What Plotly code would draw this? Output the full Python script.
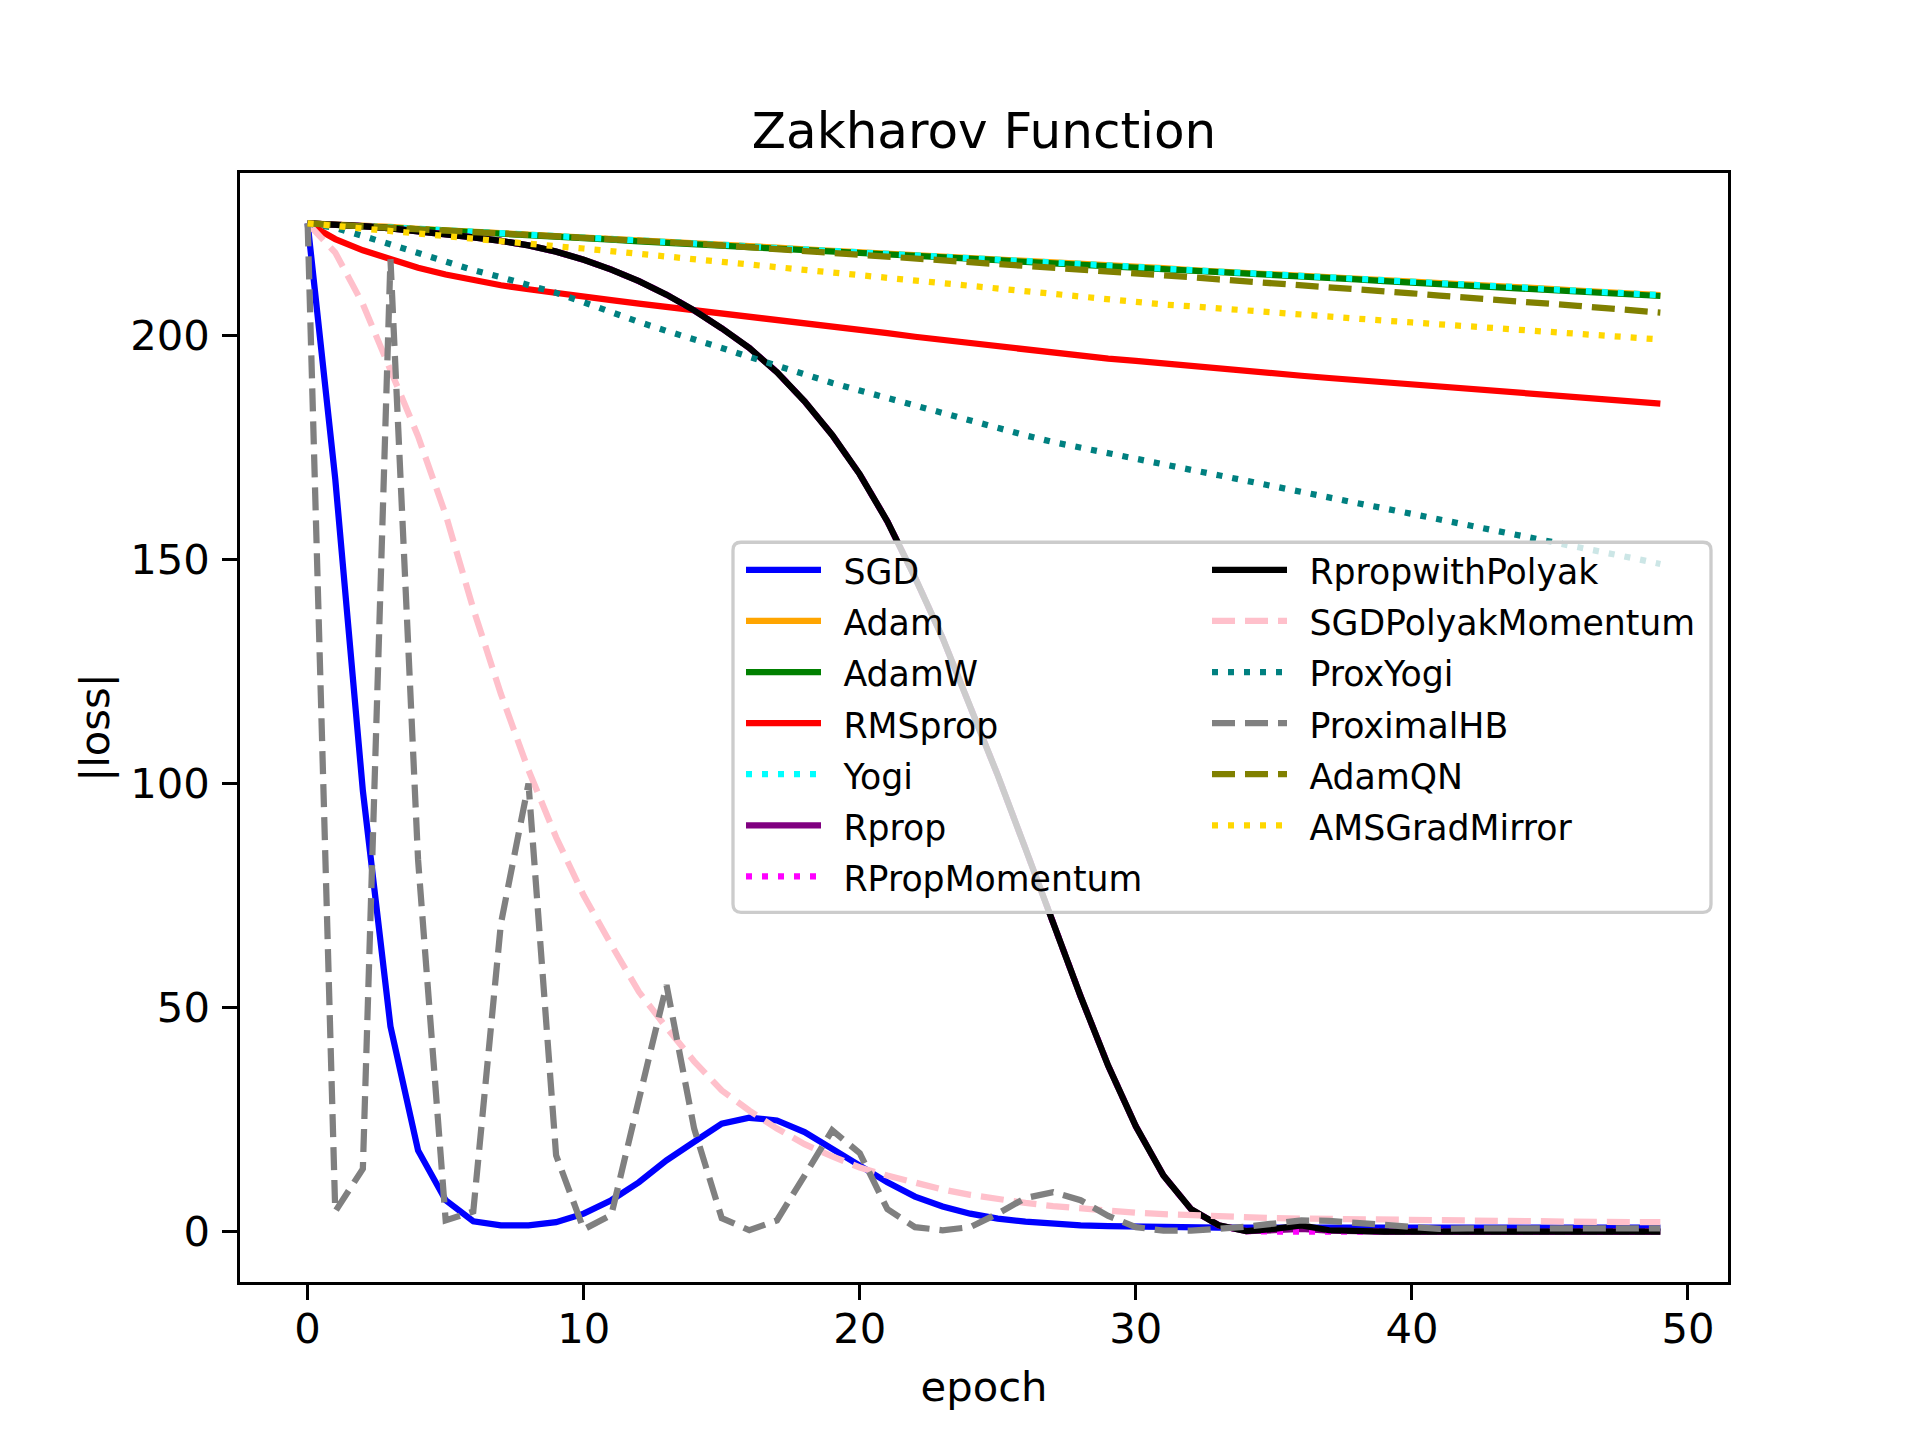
import plotly.graph_objects as go

# epochs 0..49
epochs = list(range(50))

sgd = [225.0, 168.0, 98.4, 45.8, 18.1, 7.0, 2.3, 1.4, 1.4, 2.1,
       4.0, 7.0, 11.0, 15.9, 20.0, 24.1, 25.4, 24.8, 22.2, 18.5,
       14.8, 11.0, 7.8, 5.6, 4.0, 2.9, 2.2, 1.7, 1.4, 1.2,
       1.05, 1.0, 0.95, 0.9, 0.9, 0.9, 0.9, 0.9, 0.9, 0.9,
       0.9, 0.9, 0.9, 0.9, 0.9, 0.9, 0.9, 0.9, 0.9, 0.9]

adam = [225.0, 224.8, 224.5, 224.2, 223.8, 223.5, 223.2, 222.9, 222.5, 222.2,
        221.9, 221.5, 221.2, 220.9, 220.6, 220.2, 219.9, 219.6, 219.2, 218.9,
        218.6, 218.3, 217.9, 217.6, 217.3, 216.9, 216.6, 216.3, 215.9, 215.6,
        215.3, 215.0, 214.6, 214.3, 214.0, 213.6, 213.3, 213.0, 212.7, 212.3,
        212.0, 211.7, 211.3, 211.0, 210.7, 210.4, 210.0, 209.7, 209.4, 209.0]

adamw = [225.0, 224.7, 224.3, 224.0, 223.7, 223.4, 223.0, 222.7, 222.4, 222.0,
         221.7, 221.4, 221.0, 220.7, 220.4, 220.1, 219.7, 219.4, 219.1, 218.7,
         218.4, 218.1, 217.7, 217.4, 217.1, 216.8, 216.4, 216.1, 215.8, 215.4,
         215.1, 214.8, 214.4, 214.1, 213.8, 213.5, 213.1, 212.8, 212.5, 212.1,
         211.8, 211.5, 211.1, 210.8, 210.5, 210.2, 209.8, 209.5, 209.2, 208.8]

rmsprop = [225.0, 221.5, 219.0, 216.9, 215.1, 213.6, 212.3, 211.2, 210.3, 209.4,
           208.6, 207.9, 207.1, 206.4, 205.6, 204.9, 204.1, 203.4, 202.7, 201.9,
           201.2, 200.5, 199.7, 199.0, 198.2, 197.5, 196.8, 196.0, 195.4, 194.8,
           194.3, 193.7, 193.1, 192.5, 192.0, 191.5, 191.0, 190.5, 190.0, 189.5,
           189.1, 188.6, 188.1, 187.6, 187.1, 186.7, 186.2, 185.7, 185.3, 184.8]

yogi = [225.0, 224.8, 224.5, 224.1, 223.8, 223.5, 223.1, 222.8, 222.5, 222.2,
        221.8, 221.5, 221.2, 220.8, 220.5, 220.2, 219.9, 219.5, 219.2, 218.9,
        218.5, 218.2, 217.9, 217.6, 217.2, 216.9, 216.6, 216.2, 215.9, 215.6,
        215.3, 214.9, 214.6, 214.3, 213.9, 213.6, 213.3, 213.0, 212.6, 212.3,
        212.0, 211.6, 211.3, 211.0, 210.7, 210.3, 210.0, 209.7, 209.3, 209.0]

rprop = [225.0, 224.8, 224.4, 223.9, 223.3, 222.6, 221.9, 221.1, 220.1, 218.7,
         216.9, 214.7, 212.1, 209.1, 205.6, 201.6, 197.2, 191.8, 185.3, 177.8,
         169.0, 158.5, 146.0, 132.5, 117.5, 101.8, 85.5, 69.0, 52.5, 37.0,
         23.5, 12.5, 5.0, 1.4, 0.1, 0.3, 0.6, 0.2, 0.0, 0.0,
         0.0, 0.0, 0.0, 0.0, 0.0, 0.0, 0.0, 0.0, 0.0, 0.0]

rprop_momentum = [225.0, 224.8, 224.4, 223.9, 223.3, 222.6, 221.9, 221.1, 220.1, 218.7,
                  216.9, 214.7, 212.1, 209.1, 205.6, 201.6, 197.2, 191.8, 185.3, 177.8,
                  169.0, 158.5, 146.0, 132.5, 117.5, 101.8, 85.5, 69.0, 52.5, 37.0,
                  23.5, 12.5, 5.0, 1.4, 0.1, 0.0, 0.0, 0.0, 0.0, 0.0,
                  0.0, 0.0, 0.0, 0.0, 0.0, 0.0, 0.0, 0.0, 0.0, 0.0]

rprop_polyak = [225.0, 224.8, 224.4, 223.9, 223.3, 222.6, 221.9, 221.1, 220.1, 218.7,
                216.9, 214.7, 212.1, 209.1, 205.6, 201.6, 197.2, 191.8, 185.3, 177.8,
                169.0, 158.5, 146.0, 132.5, 117.5, 101.8, 85.5, 69.0, 52.5, 37.0,
                23.5, 12.5, 5.0, 1.4, 0.1, 0.6, 1.4, 0.3, 0.05, 0.0,
                0.0, 0.0, 0.0, 0.0, 0.0, 0.0, 0.0, 0.0, 0.0, 0.0]

sgd_polyak = [225.0, 218.5, 207.0, 192.5, 177.5, 160.0, 139.0, 120.0, 103.0, 88.0,
              75.0, 64.0, 53.5, 45.5, 38.0, 31.5, 27.0, 23.0, 19.5, 16.8,
              14.3, 12.5, 10.8, 9.4, 8.2, 7.2, 6.4, 5.7, 5.1, 4.6,
              4.2, 3.9, 3.6, 3.4, 3.2, 3.0, 2.9, 2.8, 2.7, 2.6,
              2.5, 2.45, 2.4, 2.35, 2.3, 2.25, 2.2, 2.15, 2.1, 2.1]

prox_yogi = [225.0, 224.0, 222.2, 220.3, 218.3, 216.4, 214.6, 213.0, 211.4, 209.5,
             207.4, 205.1, 203.0, 201.0, 199.2, 197.2, 195.2, 193.2, 191.3, 189.4,
             187.7, 186.0, 184.3, 182.7, 181.0, 179.4, 177.7, 176.2, 174.9, 173.7,
             172.5, 171.2, 170.0, 168.8, 167.5, 166.3, 165.1, 163.8, 162.6, 161.4,
             160.2, 158.9, 157.7, 156.5, 155.2, 154.0, 152.8, 151.5, 150.3, 149.0]

proximal_hb = [225.0, 4.5, 14.0, 217.0, 83.0, 2.5, 4.5, 68.7, 100.0, 17.0,
               0.5, 3.7, 29.5, 55.0, 23.0, 3.0, 0.3, 2.5, 12.5, 22.6,
               17.5, 5.0, 1.0, 0.3, 1.0, 4.0, 7.5, 8.8, 7.0, 3.5,
               1.0, 0.2, 0.2, 0.5, 1.1, 1.8, 2.5, 2.4, 1.9, 1.3,
               0.9, 0.6, 0.7, 0.7, 0.7, 0.7, 0.7, 0.7, 0.7, 0.7]

adam_qn = [225.0, 224.7, 224.4, 224.0, 223.7, 223.4, 223.1, 222.7, 222.4, 222.1,
           221.8, 221.4, 221.1, 220.8, 220.5, 220.1, 219.7, 219.3, 218.9, 218.4,
           217.9, 217.5, 217.1, 216.7, 216.2, 215.8, 215.4, 215.0, 214.6, 214.2,
           213.8, 213.4, 213.0, 212.5, 212.1, 211.7, 211.2, 210.8, 210.3, 209.9,
           209.4, 208.9, 208.5, 208.0, 207.6, 207.1, 206.6, 206.1, 205.6, 205.1]

ams_grad_mirror = [225.0, 224.4, 223.8, 223.3, 222.7, 222.1, 221.6, 221.0, 220.5, 219.9,
                   219.4, 218.8, 218.2, 217.6, 217.0, 216.4, 215.8, 215.2, 214.6, 214.0,
                   213.4, 212.8, 212.1, 211.5, 210.8, 210.2, 209.6, 209.0, 208.5, 207.9,
                   207.4, 206.9, 206.5, 206.0, 205.6, 205.1, 204.7, 204.2, 203.8, 203.3,
                   202.9, 202.5, 202.1, 201.6, 201.2, 200.8, 200.4, 199.9, 199.5, 199.1]

names = ['SGD', 'Adam', 'AdamW', 'RMSprop', 'Yogi', 'Rprop', 'RPropMomentum',
         'RpropwithPolyak', 'SGDPolyakMomentum', 'ProxYogi', 'ProximalHB',
         'AdamQN', 'AMSGradMirror']
series = [sgd, adam, adamw, rmsprop, yogi, rprop, rprop_momentum,
          rprop_polyak, sgd_polyak, prox_yogi, proximal_hb, adam_qn, ams_grad_mirror]
colors = ['#0000ff', '#ffa500', '#008000', '#ff0000', '#00ffff', '#800080', '#ff00ff',
          '#000000', '#ffc0cb', '#008080', '#808080', '#808000', '#ffd700']

# matplotlib-like dash patterns at 300 dpi (lw 1.5pt)
SOLID = 'solid'
DASHED = '23px,10px'
DOTTED = '6px,10px'
dashes = [SOLID, SOLID, SOLID, SOLID, DOTTED, SOLID, DOTTED,
          SOLID, DASHED, DOTTED, DASHED, DASHED, DOTTED]

FONT = 'DejaVu Sans'
FS = 41.7        # 10pt at 300 dpi
LEG_FS = 34.7    # 'small'

fig = go.Figure()
for i, (name, ys, col, dash) in enumerate(zip(names, series, colors, dashes)):
    # small spacer between legend handle and label, like matplotlib's handletextpad
    label = (f'<span style="font-size:55px">&nbsp;</span>'
             f'<span style="font-size:{LEG_FS}px">{name}</span>')
    fig.add_trace(go.Scatter(
        x=epochs, y=ys, mode='lines', name=label,
        line=dict(color=col, width=6.25, dash=dash),
        legend='legend' if i < 7 else 'legend2',
    ))

# plot area in page pixels: x 240..1728, y 172.8..1281.6
def px_x(p):
    return (p - 240) / 1488.0

def px_y(p):
    return (1281.6 - p) / 1108.8

bx0, bx1, by0, by1 = px_x(733), px_x(1711), px_y(912), px_y(542)
rx, ry = 8 / 1488.0, 8 / 1108.8
box_path = (f'M{bx0 + rx},{by0} L{bx1 - rx},{by0} Q{bx1},{by0} {bx1},{by0 + ry} '
            f'L{bx1},{by1 - ry} Q{bx1},{by1} {bx1 - rx},{by1} '
            f'L{bx0 + rx},{by1} Q{bx0},{by1} {bx0},{by1 - ry} '
            f'L{bx0},{by0 + ry} Q{bx0},{by0} {bx0 + rx},{by0} Z')

legend_style = dict(
    font=dict(family=FONT, size=37, color='black'),
    bgcolor='rgba(0,0,0,0)', borderwidth=0,
    xanchor='left', yanchor='top', itemwidth=75,
    tracegroupgap=0,
)

axis_style = dict(
    showline=True, mirror=True, linecolor='black', linewidth=3.3,
    ticks='outside', ticklen=14.6, tickwidth=3.3, tickcolor='black',
    showgrid=False, zeroline=False,
    tickfont=dict(family=FONT, size=FS, color='black'),
)

# page body has an 8px margin, so the figure is shifted by 8px: compensate
fig.update_layout(
    width=1920, height=1440,
    margin=dict(l=232, r=200, t=165, b=166.2, autoexpand=False),
    plot_bgcolor='white', paper_bgcolor='white',
    font=dict(family=FONT, color='black'),
    title=dict(text='Zakharov Function', x=0.5, xref='paper', xanchor='center',
               y=1 - 122 / 1440, yref='container', yanchor='middle',
               font=dict(family=FONT, size=50, color='black')),
    xaxis=dict(axis_style, range=[-2.45, 51.45], tickvals=[0, 10, 20, 30, 40, 50],
               ticklabelstandoff=-7,
               title=dict(text='epoch', font=dict(family=FONT, size=FS), standoff=21)),
    yaxis=dict(axis_style, range=[-11.25, 236.25], tickvals=[0, 50, 100, 150, 200],
               ticklabelstandoff=4,
               title=dict(text='|loss|', font=dict(family=FONT, size=FS), standoff=8)),
    legend=dict(legend_style, x=px_x(741), y=px_y(539)),
    legend2=dict(legend_style, x=px_x(1207), y=px_y(539)),
    shapes=[dict(type='path', xref='paper', yref='paper', path=box_path,
                 line=dict(color='#cccccc', width=3.3),
                 fillcolor='rgba(255,255,255,0.8)', layer='above')],
)

fig.write_html('out.html')
